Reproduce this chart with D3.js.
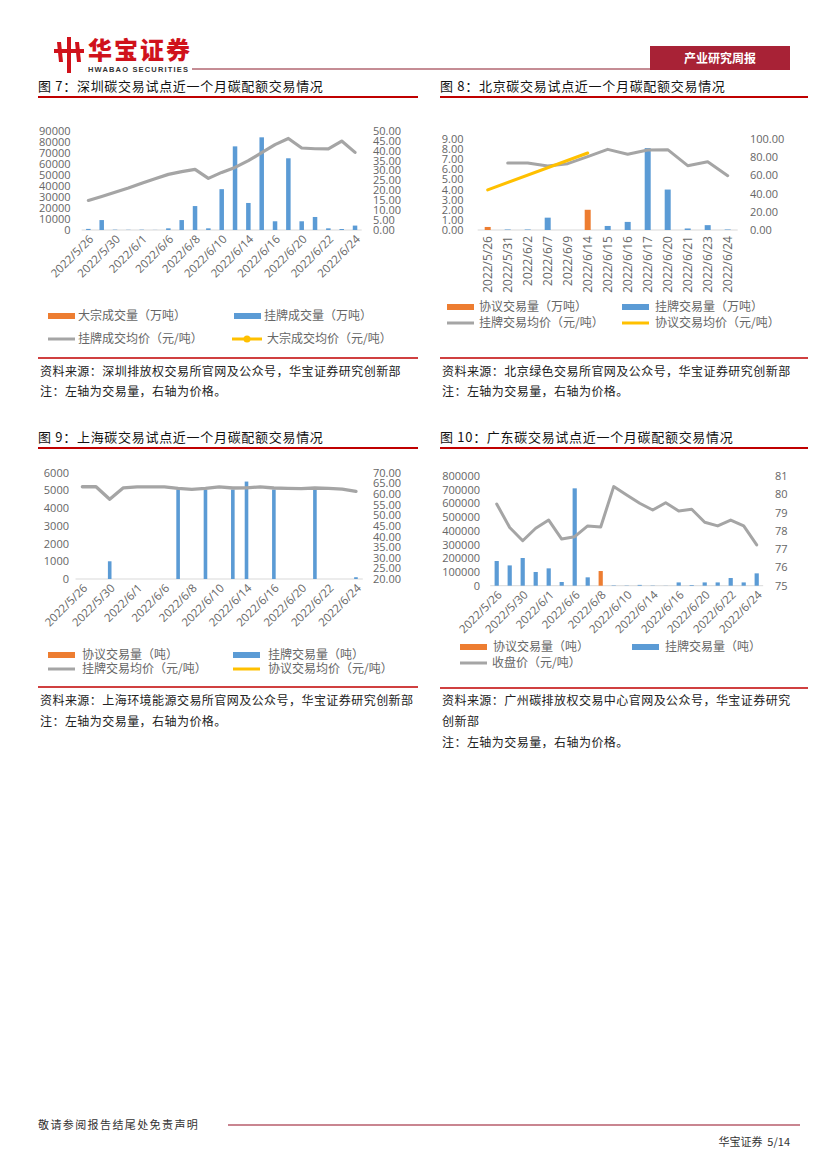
<!DOCTYPE html>
<html><head><meta charset="utf-8">
<script src="https://cdn.jsdelivr.net/npm/d3@7/dist/d3.min.js"></script>
<style>
html,body{margin:0;padding:0;background:#fff;}
svg{display:block;}
</style></head><body><div id="page"></div>
<script>
// ---------------- DATA ----------------
const szDates = ["2022/5/26","2022/5/27","2022/5/30","2022/5/31","2022/6/1","2022/6/2","2022/6/6","2022/6/7","2022/6/8","2022/6/9","2022/6/10","2022/6/13","2022/6/14","2022/6/15","2022/6/16","2022/6/17","2022/6/20","2022/6/21","2022/6/22","2022/6/23","2022/6/24"];
const szBulkVol = [null,null,null,null,null,null,null,null,null,null,null,null,null,null,null,null,null,null,null,null,null];
const szListVol = [1000,9000,300,200,300,100,1500,9000,21700,1500,37000,75800,24500,84000,7900,65000,7900,11800,1500,900,4000];
const szListPrice = [14.9,16.9,19.0,21.1,23.5,25.8,28.0,29.4,30.5,26.0,29.0,31.5,34.9,38.9,43.0,46.1,41.3,40.9,40.8,44.8,39.1];
const szBulkPrice = [null,null,null,null,null,null,null,null,null,null,null,null,null,null,null,null,null,null,null,null,null];
const szLeftTicks = [0,10000,20000,30000,40000,50000,60000,70000,80000,90000];
const szRightTicks = [0,5,10,15,20,25,30,35,40,45,50];
const szSeries = ["大宗成交量（万吨）","挂牌成交量（万吨）","挂牌成交均价（元/吨）","大宗成交均价（元/吨）"];

const bjDates = ["2022/5/26","2022/5/31","2022/6/2","2022/6/7","2022/6/9","2022/6/14","2022/6/15","2022/6/16","2022/6/17","2022/6/20","2022/6/21","2022/6/23","2022/6/24"];
const bjAgreeVol = [0.3,null,null,null,null,2.0,null,null,null,null,null,null,null];
const bjListVol = [null,0.05,0.05,1.22,null,null,0.4,0.8,8.1,4.0,0.15,0.48,0.05];
const bjListPrice = [null,73.6,73.6,70.3,72.9,80.6,88.6,83.2,87.9,88.3,70.7,75.1,59.7];
const bjAgreePrice = [44.0,null,null,null,null,84.6,null,null,null,null,null,null,null];
const bjLeftTicks = [0,1,2,3,4,5,6,7,8,9];
const bjRightTicks = [0,20,40,60,80,100];
const bjSeries = ["协议交易量（万吨）","挂牌交易量（万吨）","挂牌交易均价（元/吨）","协议交易均价（元/吨）"];

const shDates = ["2022/5/26","2022/5/27","2022/5/30","2022/5/31","2022/6/1","2022/6/2","2022/6/6","2022/6/7","2022/6/8","2022/6/9","2022/6/10","2022/6/13","2022/6/14","2022/6/15","2022/6/16","2022/6/17","2022/6/20","2022/6/21","2022/6/22","2022/6/23","2022/6/24"];
const shAgreeVol = [null,null,null,null,null,null,null,null,null,null,null,null,null,null,null,null,null,null,null,null,null];
const shListVol = [null,null,1000,null,null,null,null,5050,null,5050,null,5050,5500,null,5050,null,null,5050,null,null,100];
const shListPrice = [63.4,63.4,57.5,62.9,63.3,63.3,63.3,62.6,62.2,62.6,63.3,62.8,62.9,63.3,62.8,62.6,62.5,62.8,62.6,62.3,61.2];
const shAgreePrice = [null,null,null,null,null,null,null,null,null,null,null,null,null,null,null,null,null,null,null,null,null];
const shLeftTicks = [0,1000,2000,3000,4000,5000,6000];
const shRightTicks = [20,25,30,35,40,45,50,55,60,65,70];
const shSeries = ["协议交易量（吨）","挂牌交易量（吨）","挂牌交易均价（元/吨）","协议交易均价（元/吨）"];

const gdDates = ["2022/5/26","2022/5/27","2022/5/30","2022/5/31","2022/6/1","2022/6/2","2022/6/6","2022/6/7","2022/6/8","2022/6/9","2022/6/10","2022/6/13","2022/6/14","2022/6/15","2022/6/16","2022/6/17","2022/6/20","2022/6/21","2022/6/22","2022/6/23","2022/6/24"];
const gdAgreeVol = [null,null,null,null,null,null,null,null,107000,null,null,null,null,null,null,null,null,null,null,null,null];
const gdListVol = [180000,148000,202000,100000,126500,27000,710000,61000,null,3000,2000,6000,2000,1000,24000,5000,24000,24000,56000,24000,90000];
const gdClose = [79.47,78.18,77.46,78.14,78.59,77.55,77.68,78.27,78.21,80.42,79.96,79.51,79.14,79.54,79.09,79.18,78.47,78.27,78.59,78.27,77.23];
const gdLeftTicks = [0,100000,200000,300000,400000,500000,600000,700000,800000];
const gdRightTicks = [75,76,77,78,79,80,81];
const gdSeries = ["协议交易量（吨）","挂牌交易量（吨）","收盘价（元/吨）"];

// ---------------- STYLE ----------------
const C = {orange:"#ed7d31", blue:"#5b9bd5", gray:"#a5a5a5", yellow:"#ffc000", tick:"#666666", red:"#c00000"};
const NUM = "'Open Sans', 'DejaVu Sans', sans-serif";
const CJK = "'Noto Sans CJK SC', sans-serif";

const W = 827, H = 1169;
const svg = d3.select("#page").append("svg").attr("width", W).attr("height", H)
  .style("background", "#fff");

// ---------------- HEADER ----------------
const hdr = svg.append("g");
hdr.append("rect").attr("x",67).attr("y",37).attr("width",4).attr("height",36).attr("fill","#d0121b");
hdr.append("rect").attr("x",54).attr("y",49).attr("width",30).attr("height",4).attr("fill","#d0121b");
hdr.append("path").attr("d","M57,42 L61,42 L63,62 L59,62 Z").attr("fill","#d0121b");
hdr.append("path").attr("d","M75,42 L79,42 L81,62 L77,62 Z").attr("fill","#d0121b");
hdr.append("text").attr("x",88).attr("y",59).text("华宝证券")
  .attr("font-family",CJK).attr("font-weight",900).attr("font-size",24).attr("fill","#d0121b")
  .attr("textLength",102);
hdr.append("text").attr("x",88).attr("y",72).text("HWABAO SECURITIES")
  .attr("font-family","'Liberation Sans', sans-serif").attr("font-weight","bold").attr("font-size",7.5)
  .attr("fill","#333").attr("textLength",100);
hdr.append("line").attr("x1",192).attr("x2",650).attr("y1",69).attr("y2",69).attr("stroke","#8b1a2b").attr("stroke-width",1);
hdr.append("rect").attr("x",650).attr("y",46).attr("width",140).attr("height",24).attr("fill","#a82236");
hdr.append("text").attr("x",720).attr("y",62.5).attr("text-anchor","middle").text("产业研究周报")
  .attr("font-family",CJK).attr("font-weight","bold").attr("font-size",12).attr("fill","#fff");

// ---------------- TITLES / NOTES ----------------
function title(x, y, txt, x2) {
  svg.append("text").attr("x",x).attr("y",y).attr("dy","0.35em").text(txt)
    .attr("font-family",CJK).attr("font-size",13).attr("letter-spacing",0.7).attr("fill","#111");
  svg.append("line").attr("x1",x).attr("x2",x2).attr("y1",y+11).attr("y2",y+11)
    .attr("stroke",C.red).attr("stroke-width",2);
}
function notes(x, x2, yLine, lines) {
  svg.append("line").attr("x1",x).attr("x2",x2).attr("y1",yLine).attr("y2",yLine)
    .attr("stroke",C.red).attr("stroke-width",1.5);
  lines.forEach(l => svg.append("text").attr("x",x+2).attr("y",l[1]).attr("dy","0.35em").text(l[0])
    .attr("font-family",CJK).attr("font-size",12).attr("letter-spacing",0.45).attr("fill","#222"));
}
title(38, 86, "图 7：深圳碳交易试点近一个月碳配额交易情况", 418);
title(440, 86, "图 8：北京碳交易试点近一个月碳配额交易情况", 808);
title(38, 437, "图 9：上海碳交易试点近一个月碳配额交易情况", 418);
title(440, 437, "图 10：广东碳交易试点近一个月碳配额交易情况", 808);

notes(38, 418, 358, [["资料来源：深圳排放权交易所官网及公众号，华宝证券研究创新部",372],["注：左轴为交易量，右轴为价格。",392]]);
notes(440, 808, 358, [["资料来源：北京绿色交易所官网及公众号，华宝证券研究创新部",372],["注：左轴为交易量，右轴为价格。",392]]);
notes(38, 418, 687, [["资料来源：上海环境能源交易所官网及公众号，华宝证券研究创新部",701],["注：左轴为交易量，右轴为价格。",722]]);
notes(440, 808, 688, [["资料来源：广州碳排放权交易中心官网及公众号，华宝证券研究",701],["创新部",722],["注：左轴为交易量，右轴为价格。",743]]);

// ---------------- FOOTER ----------------
svg.append("text").attr("x",38).attr("y",1125).attr("dy","0.35em").text("敬请参阅报告结尾处免责声明")
  .attr("font-family",CJK).attr("font-size",11).attr("letter-spacing",1.4).attr("fill","#333");
svg.append("line").attr("x1",228).attr("x2",800).attr("y1",1125).attr("y2",1125).attr("stroke","#c98590").attr("stroke-width",2);
svg.append("text").attr("x",790).attr("y",1142).attr("dy","0.35em").attr("text-anchor","end").text("华宝证券  5/14")
  .attr("font-family",CJK).attr("font-size",11).attr("fill","#333").attr("xml:space","preserve");

// ---------------- CHART ----------------
function drawChart(o) {
  const g = svg.append("g");
  const x = d3.scaleBand().domain(o.dates).range([o.bx0, o.bx1]);
  const yL = d3.scaleLinear().domain(o.lDomain).range([o.yB, o.yT]);
  const yR = d3.scaleLinear().domain(o.rDomain).range([o.yB, o.yT]);
  const cx = d => x(d) + x.bandwidth()/2;

  const la = g.append("g").attr("transform",`translate(${o.lLabelX},0)`)
    .call(d3.axisLeft(yL).tickValues(o.lTicks).tickFormat(o.lFmt).tickSize(0).tickPadding(0));
  la.select(".domain").remove();
  la.selectAll("text").attr("font-family",NUM).attr("font-size",o.fs||11).attr("fill",C.tick);
  const ra = g.append("g").attr("transform",`translate(${o.rLabelX},0)`)
    .call(d3.axisRight(yR).tickValues(o.rTicks).tickFormat(o.rFmt).tickSize(0).tickPadding(0));
  ra.select(".domain").remove();
  ra.selectAll("text").attr("font-family",NUM).attr("font-size",o.fs||11).attr("fill",C.tick);

  g.append("line").attr("x1",o.bx0).attr("x2",o.bx1).attr("y1",o.yB).attr("y2",o.yB)
    .attr("stroke","#d9d9d9").attr("stroke-width",1);

  const xa = g.append("g").attr("transform",`translate(0,${o.yB})`)
    .call(d3.axisBottom(x).tickValues(o.dates.filter((d,i)=> i % o.every === 0)).tickSize(0));
  xa.select(".domain").remove();
  xa.selectAll("text").attr("font-family",NUM).attr("font-size",o.xfs||11.5).attr("fill",C.tick)
    .attr("x",0).attr("y",0).attr("dy","0.35em").style("text-anchor","end")
    .attr("transform", o.rot === -90 ? "translate(0,6) rotate(-90)" : "translate(3,7) rotate(-45)");

  o.bars.forEach(b => {
    g.append("g").selectAll("rect")
      .data(o.dates.map((d,i)=>({d, v:b.data[i]})).filter(p => p.v != null && p.v > 0))
      .join("rect")
      .attr("x", p => cx(p.d) - o.barW/2).attr("width", o.barW)
      .attr("y", p => yL(p.v)).attr("height", p => yL(0) - yL(p.v))
      .attr("fill", b.color);
  });
  o.lines.forEach(l => {
    const pts = o.dates.map((d,i)=>({d, v:l.data[i]})).filter(p => p.v != null);
    g.append("path").datum(pts)
      .attr("d", d3.line().x(p => cx(p.d)).y(p => yR(p.v)))
      .attr("fill","none").attr("stroke",l.color).attr("stroke-width",l.w||3)
      .attr("stroke-linejoin","round").attr("stroke-linecap","round");
  });

  o.legend.forEach(it => {
    const lg = g.append("g");
    if (it.type === "rect") {
      lg.append("rect").attr("x",it.x).attr("y",it.y-3).attr("width",27).attr("height",6).attr("fill",it.color);
    } else {
      lg.append("line").attr("x1",it.x).attr("x2",it.x+(it.len||27)).attr("y1",it.y).attr("y2",it.y)
        .attr("stroke",it.color).attr("stroke-width",3);
      if (it.marker) lg.append("circle").attr("cx",it.x+(it.len||27)/2).attr("cy",it.y).attr("r",3.5).attr("fill",it.color);
    }
    lg.append("text").attr("x",it.tx).attr("y",it.y).attr("dy","0.35em").text(it.label)
      .attr("font-family",CJK).attr("font-size",12).attr("fill",C.tick);
  });
}

const f2 = d3.format(".2f"), f0 = d3.format("d");

drawChart({dates:szDates, bx0:81.7, bx1:361.7, yT:130.7, yB:230,
  lDomain:[0,90000], rDomain:[0,50], lTicks:szLeftTicks, rTicks:szRightTicks, lFmt:f0, rFmt:f2,
  lLabelX:70.5, rLabelX:373, every:2, rot:-45, barW:4.5,
  bars:[{data:szBulkVol,color:C.orange},{data:szListVol,color:C.blue}],
  lines:[{data:szListPrice,color:C.gray,w:3.2},{data:szBulkPrice,color:C.yellow}],
  legend:[
    {type:"rect",color:C.orange,x:48,y:316,tx:78,label:szSeries[0]},
    {type:"rect",color:C.blue,x:234,y:316,tx:264,label:szSeries[1]},
    {type:"line",color:C.gray,x:48,y:339,tx:78,label:szSeries[2]},
    {type:"line",color:C.yellow,marker:true,len:30,x:232,y:339,tx:267,label:szSeries[3]}
  ]});

drawChart({dates:bjDates, bx0:477.7, bx1:737.7, yT:139, yB:230,
  lDomain:[0,9], rDomain:[0,100], lTicks:bjLeftTicks, rTicks:bjRightTicks, lFmt:f2, rFmt:f2,
  lLabelX:463.5, rLabelX:750, every:1, rot:-90, barW:6, xfs:12,
  bars:[{data:bjAgreeVol,color:C.orange},{data:bjListVol,color:C.blue}],
  lines:[{data:bjListPrice,color:C.gray,w:3},{data:bjAgreePrice,color:C.yellow,w:3}],
  legend:[
    {type:"rect",color:C.orange,x:447,y:307,tx:479,label:bjSeries[0]},
    {type:"rect",color:C.blue,x:622,y:307,tx:655,label:bjSeries[1]},
    {type:"line",color:C.gray,x:447,y:323,tx:479,label:bjSeries[2]},
    {type:"line",color:C.yellow,x:622,y:323,tx:655,label:bjSeries[3]}
  ]});

drawChart({dates:shDates, bx0:75.5, bx1:362.8, yT:472.7, yB:579,
  lDomain:[0,6000], rDomain:[20,70], lTicks:shLeftTicks, rTicks:shRightTicks, lFmt:f0, rFmt:f2,
  lLabelX:69, rLabelX:373, every:2, rot:-45, barW:3.6,
  bars:[{data:shAgreeVol,color:C.orange},{data:shListVol,color:C.blue}],
  lines:[{data:shListPrice,color:C.gray,w:3.3},{data:shAgreePrice,color:C.yellow}],
  legend:[
    {type:"rect",color:C.orange,x:48,y:655,tx:82,label:shSeries[0]},
    {type:"rect",color:C.blue,x:233,y:655,tx:268,label:shSeries[1]},
    {type:"line",color:C.gray,x:48,y:669,tx:82,label:shSeries[2]},
    {type:"line",color:C.yellow,x:233,y:669,tx:268,label:shSeries[3]}
  ]});

drawChart({dates:gdDates, bx0:490.2, bx1:763.2, yT:476, yB:585.7,
  lDomain:[0,800000], rDomain:[75,81], lTicks:gdLeftTicks, rTicks:gdRightTicks, lFmt:f0, rFmt:f0,
  lLabelX:480, rLabelX:775, every:2, rot:-45, barW:4.2,
  bars:[{data:gdAgreeVol,color:C.orange},{data:gdListVol,color:C.blue}],
  lines:[{data:gdClose,color:C.gray,w:3}],
  legend:[
    {type:"rect",color:C.orange,x:460,y:647,tx:493,label:gdSeries[0]},
    {type:"rect",color:C.blue,x:632,y:647,tx:665,label:gdSeries[1]},
    {type:"line",color:C.gray,x:460,y:663,tx:492,label:gdSeries[2]}
  ]});
</script>
</body></html>
